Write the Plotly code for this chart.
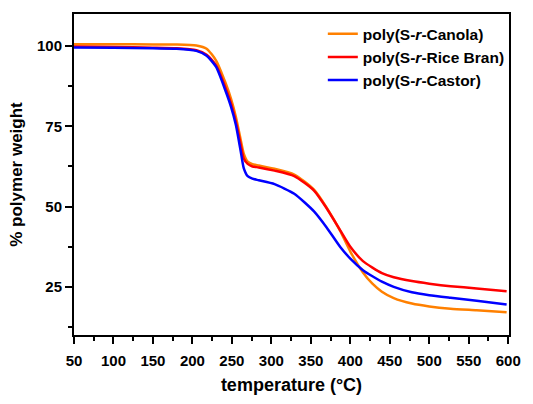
import plotly.graph_objects as go

temperature = [50, 100, 150, 180, 205, 218, 230, 242, 249, 255, 261, 265, 270, 276, 284,
               304, 329, 354, 370, 387, 400, 416, 428, 440, 455, 478, 500, 527, 560, 598]
canola = [100.6, 100.6, 100.5, 100.5, 100.2, 99.2, 95.5, 88.5, 83.5, 78.0, 71.0, 66.5, 64.0, 63.2, 62.8,
          61.8, 60.0, 55.3, 49.7, 42.5, 36.0, 29.5, 26.0, 23.5, 21.5, 19.8, 18.9, 18.2, 17.7, 17.1]
rice_bran = [99.9, 99.7, 99.5, 99.3, 98.7, 97.3, 94.0, 87.0, 82.0, 76.5, 69.5, 65.0, 63.3, 62.5, 62.2,
             61.2, 59.5, 55.0, 49.5, 42.7, 37.5, 33.0, 31.0, 29.3, 28.0, 26.8, 26.0, 25.2, 24.5, 23.6]
castor = [99.6, 99.5, 99.3, 99.2, 98.5, 97.0, 93.5, 86.0, 81.0, 75.5, 67.5, 62.0, 59.5, 58.7, 58.2,
          57.0, 54.0, 48.5, 43.5, 37.5, 33.8, 30.2, 28.3, 26.6, 25.0, 23.3, 22.4, 21.6, 20.7, 19.5]

series = [
    ("<b>poly(S-<i>r</i>-Canola)</b>", canola, "#FF8000"),
    ("<b>poly(S-<i>r</i>-Rice Bran)</b>", rice_bran, "#FF0000"),
    ("<b>poly(S-<i>r</i>-Castor)</b>", castor, "#0000FF"),
]

fig = go.Figure()
for name, vals, color in series:
    fig.add_trace(go.Scatter(x=temperature, y=vals, name=name, mode="lines",
                             line=dict(color=color, width=2.5, shape="spline", smoothing=0.6)))

font = "Liberation Sans, Arial, sans-serif"
xt = list(range(50, 601, 50))
fig.update_layout(
    width=533, height=404,
    margin=dict(l=74, r=13, t=12, b=59),
    paper_bgcolor="white", plot_bgcolor="white",
    font=dict(family=font, color="black"),
    showlegend=True,
    legend=dict(x=0.572, y=0.99, xanchor="left", yanchor="top",
                font=dict(family=font, size=15.5, color="black"),
                bgcolor="rgba(0,0,0,0)", tracegroupgap=0, itemwidth=30),
    xaxis=dict(range=[50, 601], tickmode="array",
               tickvals=xt, ticktext=[f"<b>{v}</b>" for v in xt],
               ticks="outside", ticklen=7, tickwidth=2, tickcolor="black",
               ticklabelstandoff=4,
               minor=dict(ticks="outside", ticklen=4, tickwidth=2, tickcolor="black", dtick=25, tick0=25),
               showline=True, linecolor="black", linewidth=2, mirror=True,
               showgrid=False, zeroline=False,
               tickfont=dict(family=font, size=15),
               title=dict(text="<b>temperature (°C)</b>", font=dict(family=font, size=18), standoff=10)),
    yaxis=dict(range=[10, 110], tickmode="array",
               tickvals=[25, 50, 75, 100],
               ticktext=["<b>25</b>", "<b>50</b>", "<b>75</b>", "<b>100</b>"],
               ticks="outside", ticklen=7, tickwidth=2, tickcolor="black",
               minor=dict(ticks="outside", ticklen=4, tickwidth=2, tickcolor="black", dtick=25, tick0=12.5),
               showline=True, linecolor="black", linewidth=2, mirror=True,
               showgrid=False, zeroline=False,
               tickfont=dict(family=font, size=15),
               title=dict(text="<b>% polymer weight</b>", font=dict(family=font, size=17), standoff=10)),
)

fig.write_html("out.html")
